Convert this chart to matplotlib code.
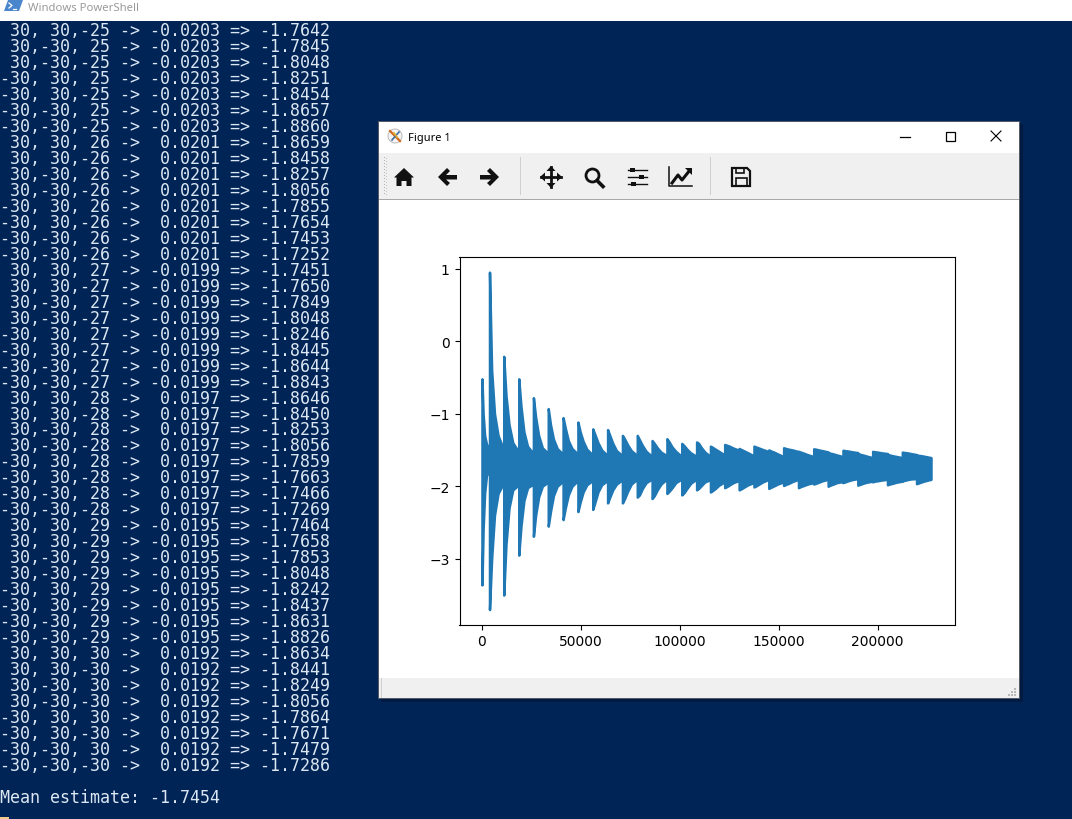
import numpy as np
import matplotlib
matplotlib.use("Agg")
import matplotlib.pyplot as plt
from matplotlib.patches import Rectangle, Polygon, Circle

# console output
console_lines = [
    " 30, 30,-25 -> -0.0203 => -1.7642",
    " 30,-30, 25 -> -0.0203 => -1.7845",
    " 30,-30,-25 -> -0.0203 => -1.8048",
    "-30, 30, 25 -> -0.0203 => -1.8251",
    "-30, 30,-25 -> -0.0203 => -1.8454",
    "-30,-30, 25 -> -0.0203 => -1.8657",
    "-30,-30,-25 -> -0.0203 => -1.8860",
    " 30, 30, 26 ->  0.0201 => -1.8659",
    " 30, 30,-26 ->  0.0201 => -1.8458",
    " 30,-30, 26 ->  0.0201 => -1.8257",
    " 30,-30,-26 ->  0.0201 => -1.8056",
    "-30, 30, 26 ->  0.0201 => -1.7855",
    "-30, 30,-26 ->  0.0201 => -1.7654",
    "-30,-30, 26 ->  0.0201 => -1.7453",
    "-30,-30,-26 ->  0.0201 => -1.7252",
    " 30, 30, 27 -> -0.0199 => -1.7451",
    " 30, 30,-27 -> -0.0199 => -1.7650",
    " 30,-30, 27 -> -0.0199 => -1.7849",
    " 30,-30,-27 -> -0.0199 => -1.8048",
    "-30, 30, 27 -> -0.0199 => -1.8246",
    "-30, 30,-27 -> -0.0199 => -1.8445",
    "-30,-30, 27 -> -0.0199 => -1.8644",
    "-30,-30,-27 -> -0.0199 => -1.8843",
    " 30, 30, 28 ->  0.0197 => -1.8646",
    " 30, 30,-28 ->  0.0197 => -1.8450",
    " 30,-30, 28 ->  0.0197 => -1.8253",
    " 30,-30,-28 ->  0.0197 => -1.8056",
    "-30, 30, 28 ->  0.0197 => -1.7859",
    "-30, 30,-28 ->  0.0197 => -1.7663",
    "-30,-30, 28 ->  0.0197 => -1.7466",
    "-30,-30,-28 ->  0.0197 => -1.7269",
    " 30, 30, 29 -> -0.0195 => -1.7464",
    " 30, 30,-29 -> -0.0195 => -1.7658",
    " 30,-30, 29 -> -0.0195 => -1.7853",
    " 30,-30,-29 -> -0.0195 => -1.8048",
    "-30, 30, 29 -> -0.0195 => -1.8242",
    "-30, 30,-29 -> -0.0195 => -1.8437",
    "-30,-30, 29 -> -0.0195 => -1.8631",
    "-30,-30,-29 -> -0.0195 => -1.8826",
    " 30, 30, 30 ->  0.0192 => -1.8634",
    " 30, 30,-30 ->  0.0192 => -1.8441",
    " 30,-30, 30 ->  0.0192 => -1.8249",
    " 30,-30,-30 ->  0.0192 => -1.8056",
    "-30, 30, 30 ->  0.0192 => -1.7864",
    "-30, 30,-30 ->  0.0192 => -1.7671",
    "-30,-30, 30 ->  0.0192 => -1.7479",
    "-30,-30,-30 ->  0.0192 => -1.7286",
]
mean_line = "Mean estimate: -1.7454"

# envelope of the plotted series, one entry per sawtooth
tooth_x = [0, 3800, 11000, 18600, 26000, 33500, 41000, 48500, 56000, 63500, 71000,
           78500, 86000, 93500, 101000, 108500, 115500, 122700, 130000, 137500, 145000,
           152500, 160000, 167700, 175000, 182500, 190000, 197500, 205000, 212500, 219700]
series_end = 227000

up_peak = [-0.52, 0.95, -0.21, -0.52, -0.78, -0.93, -1.055, -1.116, -1.21, -1.22, -1.30,
           -1.30, -1.37, -1.345, -1.41, -1.39, -1.448, -1.425, -1.48, -1.448, -1.50,
           -1.47, -1.52, -1.485, -1.535, -1.505, -1.55, -1.52, -1.565, -1.53, -1.57]
up_a = [-1.00, -0.40, -0.75, -0.90, -1.05, -1.15, -1.20, -1.25, -1.29, -1.30, -1.35,
        -1.36, -1.41, -1.39, -1.44, -1.41, -1.465, -1.435, -1.495, -1.46, -1.515,
        -1.48, -1.53, -1.49, -1.545, -1.51, -1.56, -1.525, -1.57, -1.535, -1.575]
up_b = [-1.30, -1.00, -1.15, -1.25, -1.30, -1.35, -1.37, -1.38, -1.40, -1.41, -1.43,
        -1.44, -1.47, -1.46, -1.49, -1.47, -1.49, -1.45, -1.515, -1.475, -1.53,
        -1.49, -1.545, -1.50, -1.555, -1.515, -1.57, -1.53, -1.58, -1.54, -1.58]
up_c = [-1.42, -1.30, -1.40, -1.45, -1.47, -1.48, -1.48, -1.49, -1.50, -1.51, -1.51,
        -1.52, -1.53, -1.52, -1.54, -1.53, -1.52, -1.475, -1.54, -1.495, -1.555,
        -1.50, -1.565, -1.51, -1.57, -1.525, -1.585, -1.54, -1.59, -1.55, -1.59]
up_end = [-1.50, -1.50, -1.53, -1.55, -1.55, -1.56, -1.56, -1.57, -1.58, -1.58, -1.58,
          -1.59, -1.58, -1.59, -1.59, -1.59, -1.57, -1.504, -1.583, -1.523, -1.592,
          -1.523, -1.592, -1.528, -1.592, -1.537, -1.606, -1.55, -1.606, -1.564, -1.606]

lo_peak = [-3.36, -3.70, -3.50, -2.95, -2.69, -2.55, -2.46, -2.35, -2.32, -2.23, -2.23,
           -2.15, -2.17, -2.10, -2.12, -2.05, -2.08, -2.02, -2.05, -2.01, -2.03,
           -1.99, -2.02, -1.97, -2.00, -1.95, -1.985, -1.94, -1.98, -1.925, -1.965]
lo_a = [-2.60, -3.00, -2.80, -2.55, -2.40, -2.35, -2.30, -2.22, -2.22, -2.15, -2.17,
        -2.12, -2.13, -2.07, -2.09, -2.03, -2.06, -2.005, -2.035, -1.995, -2.015,
        -1.975, -2.005, -1.96, -1.985, -1.94, -1.975, -1.93, -1.97, -1.92, -1.955]
lo_b = [-2.10, -2.40, -2.30, -2.20, -2.15, -2.13, -2.12, -2.08, -2.08, -2.05, -2.07,
        -2.03, -2.05, -2.02, -2.03, -1.99, -2.03, -1.98, -2.01, -1.97, -1.995,
        -1.96, -1.99, -1.945, -1.97, -1.925, -1.96, -1.925, -1.96, -1.91, -1.94]
lo_c = [-1.85, -2.10, -2.05, -2.02, -2.00, -2.00, -2.00, -1.98, -1.98, -1.97, -1.97,
        -1.95, -1.97, -1.95, -1.96, -1.94, -1.985, -1.95, -1.98, -1.94, -1.97,
        -1.935, -1.97, -1.925, -1.95, -1.91, -1.945, -1.915, -1.945, -1.90, -1.925]
lo_end = [-1.78, -1.95, -1.98, -1.97, -1.94, -1.93, -1.92, -1.92, -1.92, -1.91, -1.90,
          -1.90, -1.90, -1.90, -1.90, -1.91, -1.94, -1.92, -1.95, -1.905, -1.94,
          -1.905, -1.95, -1.905, -1.935, -1.895, -1.93, -1.905, -1.93, -1.895, -1.905]

x_ticks = [0, 50000, 100000, 150000, 200000]
y_ticks = [-3, -2, -1, 0, 1]

console_bg = "#012456"
console_fg = "#dbe7f2"
bar_grey = "#f0f0f0"
line_blue = "#1f77b4"
icon = "#111111"

W, H = 1072, 820
fig = plt.figure(figsize=(W / 100, H / 100), dpi=100)

# everything around the chart is drawn in screen pixels on one full size axes
bg = fig.add_axes([0, 0, 1, 1])
bg.set_xlim(0, W)
bg.set_ylim(H - 1, -1)
bg.axis("off")


def box(x0, y0, x1, y1, color, z=1):
    bg.add_patch(Rectangle((x0, y0), x1 - x0, y1 - y0, fc=color, ec="none", zorder=z))


box(0, 0, W, H, console_bg, 0)
box(0, -1, W, 21, "white")

# PowerShell title bar
bg.add_patch(Polygon([(8, 0), (23, 0), (19, 11), (4, 11)], fc="#4a86cc", ec="none", zorder=2))
bg.plot([9, 12, 9], [3, 5.5, 8], color="white", lw=0.9, zorder=3)
bg.plot([13, 16], [8.5, 8.5], color="white", lw=0.9, zorder=3)
bg.text(28, 7.5, "Windows PowerShell", family="Noto Sans", fontsize=8.1, color="#9a9a9a",
        va="center", ha="left", zorder=3)

# console text
for i, line in enumerate(console_lines):
    bg.text(0, 30 + i * 15.98, line, family="DejaVu Sans Mono", fontsize=12,
            color=console_fg, va="center", ha="left", zorder=2)
bg.text(0, 797.5, mean_line, family="DejaVu Sans Mono", fontsize=12,
        color=console_fg, va="center", ha="left", zorder=2)
box(0, 817, 9, 820, "#f5c98a", 2)

# figure window
box(381, 124, 1023, 702, "#011a42", 1)
box(378, 121, 1020, 699, "#555b66", 2)
box(379, 122, 1019, 698, "white", 3)
box(379, 153, 1019, 199, bar_grey, 3)
box(379, 199, 1019, 200, "#a8a8a8", 3)
box(379, 678, 1019, 698, bar_grey, 3)
box(381, 678, 382, 698, "#d0d0d0", 4)

# window title and buttons
bg.add_patch(Circle((395, 136), 7, fc="#f4f4f4", ec="#b0b0b0", lw=0.6, zorder=4))
bg.plot([390, 400], [131, 141], color="#d06a20", lw=1.6, zorder=5)
bg.plot([392, 399], [140, 132], color="#3a6ea5", lw=1.2, zorder=5)
bg.plot([394, 397], [133, 137], color="#e0b030", lw=1.2, zorder=5)
bg.text(408, 137, "Figure 1", family="Noto Sans", fontsize=8.0, color="black",
        va="center", ha="left", zorder=5)
bg.plot([900, 910], [136.5, 136.5], color="black", lw=0.9, zorder=5)
bg.add_patch(Rectangle((945.5, 131.5), 9, 9, fc="none", ec="black", lw=0.9, zorder=5))
bg.plot([991, 1001], [131, 141], color="black", lw=0.8, zorder=5)
bg.plot([991, 1001], [141, 131], color="black", lw=0.8, zorder=5)

# toolbar grip and separators
for gy in range(157, 195, 3):
    box(384, gy, 385.2, gy + 1.2, "#b4b4b4", 4)
    box(386, gy + 1, 387.2, gy + 2.2, "#c4c4c4", 4)
box(520, 157, 521, 195, "#cfcfcf", 4)
box(710, 157, 711, 195, "#cfcfcf", 4)

# toolbar icons
home = [(404, 168), (414, 177.5), (411.5, 177.5), (411.5, 186), (406.5, 186), (406.5, 181),
        (401.5, 181), (401.5, 186), (396.5, 186), (396.5, 177.5), (394, 177.5)]
bg.add_patch(Polygon(home, fc=icon, ec="none", zorder=5))
left_arrow = [(438, 177), (447, 168), (450, 171), (446, 175), (457, 175), (457, 179.5),
              (446, 179.5), (450, 183), (447, 186)]
bg.add_patch(Polygon(left_arrow, fc=icon, ec="none", zorder=5))
right_arrow = [(499, 177), (490, 168), (487, 171), (491, 175), (480, 175), (480, 179.5),
               (491, 179.5), (487, 183), (490, 186)]
bg.add_patch(Polygon(right_arrow, fc=icon, ec="none", zorder=5))
bg.plot([541, 561], [177, 177], color=icon, lw=2, zorder=5)
bg.plot([551, 551], [167, 187], color=icon, lw=2, zorder=5)
for tri in ([(540, 177), (545, 172.5), (545, 181.5)], [(562, 177), (557, 172.5), (557, 181.5)],
            [(551, 166), (546.5, 171), (555.5, 171)], [(551, 188), (546.5, 183), (555.5, 183)]):
    bg.add_patch(Polygon(tri, fc=icon, ec="none", zorder=5))
bg.add_patch(Circle((592.5, 175.5), 6.5, fc="none", ec=icon, lw=2, zorder=5))
bg.plot([597, 603], [180.5, 186.5], color=icon, lw=2.6, zorder=5)
for sy, sx in ((170, 632), (177, 641), (184, 633)):
    bg.plot([628, 647], [sy, sy], color=icon, lw=1.0, zorder=5)
    box(sx - 2.5, sy - 2, sx + 2.5, sy + 2, icon, 6)
bg.plot([669, 669, 692], [167, 186, 186], color=icon, lw=1.1, zorder=5)
bg.plot([672, 678, 682, 690], [183, 175, 180, 170], color=icon, lw=2.2, zorder=5)
bg.add_patch(Polygon([(685, 168), (692, 168), (692, 175)], fc=icon, ec="none", zorder=5))
bg.add_patch(Polygon([(732, 168), (747, 168), (750, 171), (750, 186), (732, 186)],
                     fc="none", ec=icon, lw=1.6, zorder=5))
bg.add_patch(Rectangle((736, 168), 8, 5, fc="none", ec=icon, lw=1.2, zorder=5))
bg.add_patch(Rectangle((735.5, 178), 11, 8, fc="none", ec=icon, lw=1.2, zorder=5))

# resize grip
for gx, gy in ((1014, 688), (1011, 691), (1014, 691), (1008, 694), (1011, 694), (1014, 694)):
    box(gx, gy, gx + 2, gy + 2, "#b8b8b8", 5)

# the chart
ax = fig.add_axes([459.5 / W, 1 - 625.5 / H, 495.5 / W, 368 / H], zorder=10)
fracs = np.array([0, 0.15, 0.35, 0.6, 1.0])
edges = np.array(tooth_x + [series_end], dtype=float)
xs = []
ups = []
los = []
for i in range(len(tooth_x)):
    xs.append(edges[i] + fracs * (edges[i + 1] - edges[i]))
    ups.append([up_peak[i], up_a[i], up_b[i], up_c[i], up_end[i]])
    los.append([lo_peak[i], lo_a[i], lo_b[i], lo_c[i], lo_end[i]])
xs = np.concatenate(xs)
ups = np.concatenate(ups)
los = np.concatenate(los)
ax.fill_between(xs, los, ups, color=line_blue, lw=1.8)

ax.set_xlim(-11364, 239140)
ax.set_ylim(-3.906, 1.166)
ax.set_xticks(x_ticks)
ax.set_yticks(y_ticks)

fig.savefig("out.png", dpi=100)
